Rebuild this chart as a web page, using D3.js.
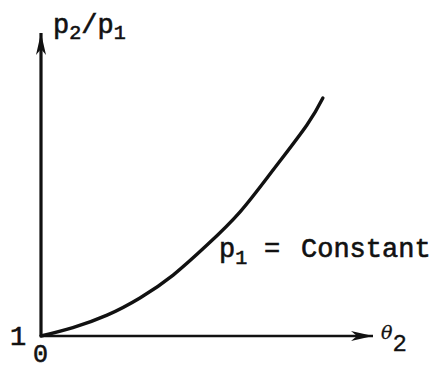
<!DOCTYPE html>
<html>
<head>
<meta charset="utf-8">
<script src="https://cdn.jsdelivr.net/npm/d3@7"></script>
<style>
body { margin: 0; background: #fff; }
text { font-family: "Liberation Mono", "DejaVu Sans Mono", monospace; fill: #111; stroke: #111; stroke-width: 0.6px; }
</style>
</head>
<body>
<div id="chart"></div>
<script>
// curve (theta2 in arbitrary units, pressure ratio)
var theta = [0, 0.96, 1.99, 2.98, 3.98, 5.0, 5.99, 6.99, 8.01, 8.49];
var ratio = [1, 1.25, 1.62, 2.13, 2.81, 3.70, 4.68, 5.93, 7.27, 8.07];
var xTicks = ["0"];
var yTicks = ["1"];

var width = 432, height = 370;
var margin = {top: 33, right: 59, bottom: 34, left: 41};

var svg = d3.select("#chart").append("svg")
    .attr("width", width)
    .attr("height", height);

var x = d3.scaleLinear().domain([0, 10]).range([margin.left, width - margin.right]);
var y = d3.scaleLinear().domain([1, 10]).range([height - margin.bottom, margin.top]);

//arrow heads
var defs = svg.append("defs");
defs.append("marker")
    .attr("id", "arrow")
    .attr("viewBox", "0 0 22 12")
    .attr("refX", 22).attr("refY", 6)
    .attr("markerWidth", 22).attr("markerHeight", 12)
    .attr("markerUnits", "userSpaceOnUse")
    .attr("orient", "auto")
    .append("path")
    .attr("d", "M0,1 L22,6 L0,11 L6,6 Z")
    .attr("fill", "#111");

//axes
svg.append("line")
    .attr("x1", x(0)).attr("y1", y(1))
    .attr("x2", x(0)).attr("y2", y(10))
    .attr("stroke", "#111").attr("stroke-width", 3.2)
    .attr("marker-end", "url(#arrow)");

svg.append("line")
    .attr("x1", x(0)).attr("y1", y(1))
    .attr("x2", x(10)).attr("y2", y(1))
    .attr("stroke", "#111").attr("stroke-width", 2.6)
    .attr("marker-end", "url(#arrow)");

//curve
var pts = theta.map(function (t, i) { return [t, ratio[i]]; });
svg.append("path")
    .datum(pts)
    .attr("fill", "none")
    .attr("stroke", "#111")
    .attr("stroke-width", 3.4)
    .attr("stroke-linecap", "round")
    .attr("d", d3.line()
        .x(function (d) { return x(d[0]); })
        .y(function (d) { return y(d[1]); })
        .curve(d3.curveNatural));

//tick labels
svg.append("text")
    .attr("x", 10).attr("y", 345)
    .style("font-size", "27px")
    .text(yTicks[0]);

svg.append("text")
    .attr("x", 33).attr("y", 362)
    .style("font-size", "25px")
    .text(xTicks[0]);

//axis titles
var yt = svg.append("text")
    .attr("x", 53).attr("y", 33)
    .style("font-size", "27px");
yt.append("tspan").text("p");
yt.append("tspan").attr("dy", 6).style("font-size", "20px").text("2");
yt.append("tspan").attr("dy", -6).text("/p");
yt.append("tspan").attr("dy", 6).style("font-size", "20px").text("1");

var xt = svg.append("text")
    .attr("x", 381).attr("y", 339)
    .style("font-family", "'DejaVu Serif', serif")
    .style("font-style", "italic")
    .style("stroke-width", "0.3px")
    .style("font-size", "19px");
xt.append("tspan").text("θ");
xt.append("tspan").attr("dy", 12).style("font-style", "normal")
    .style("font-family", "'Liberation Mono', monospace")
    .style("font-size", "24px").text("2");

//curve label
var cl = svg.append("text")
    .attr("x", 219).attr("y", 257)
    .style("font-size", "27px");
cl.append("tspan").text("p");
cl.append("tspan").attr("dy", 7).style("font-size", "20px").text("1");
cl.append("tspan").attr("dy", -7).attr("x", 264).text("=");
cl.append("tspan").attr("x", 301).text("Constant");
</script>
</body>
</html>
